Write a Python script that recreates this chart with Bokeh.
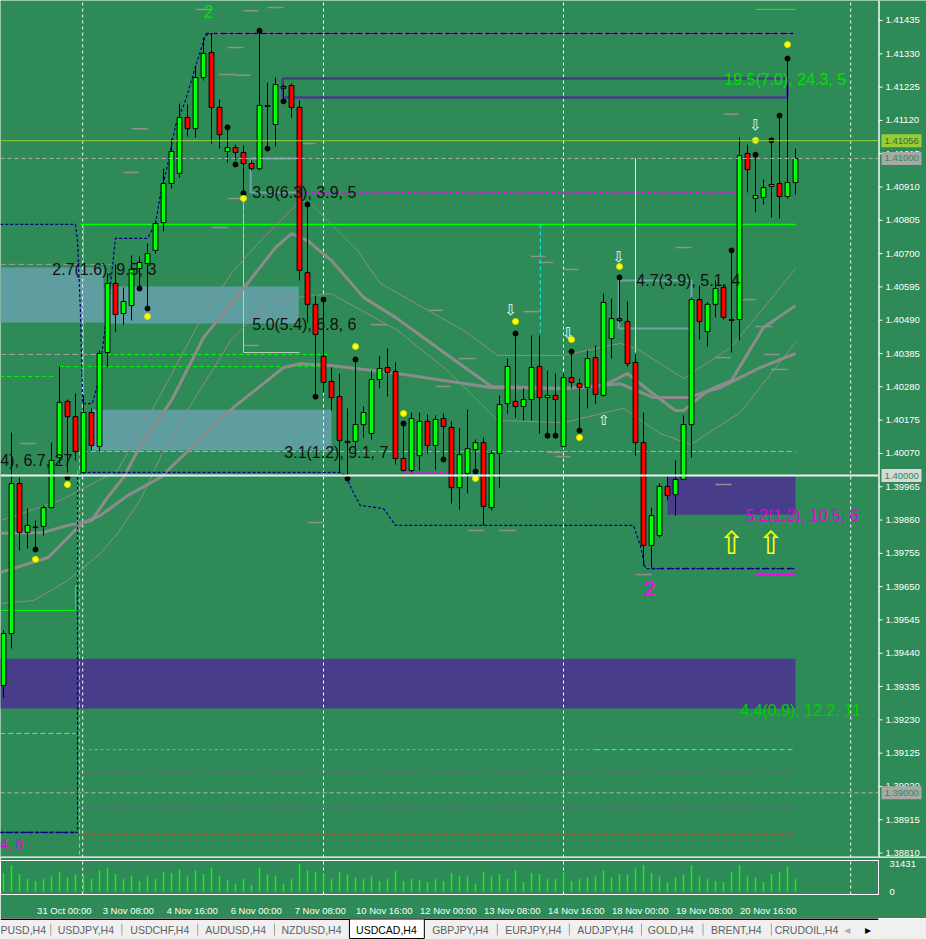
from bokeh.plotting import figure
from bokeh.models import Range1d, FixedTicker, Span, LinearAxis
from bokeh.layouts import column, row
from bokeh.core.properties import value
from bokeh.embed import file_html
from bokeh.resources import INLINE

BG = "#2E8B57"

# ---------------- data ----------------
bars = list(range(-4, 96))
opens = [1.39338,1.39502,1.39975,1.39821,1.39836,1.39840,1.39899,1.40057,1.40234,1.40186,
         1.40010,1.40199,1.40092,1.40388,1.40606,1.40511,1.40536,1.40653,1.40669,1.40710,
         1.40798,1.40921,1.40953,1.41129,1.41094,1.41255,1.41334,1.41161,1.41022,1.41034,
         1.41019,1.40984,1.40968,1.41167,1.41107,1.41227,1.41230,1.41161,1.40640,1.40540,
         1.40376,1.40297,1.40249,1.40108,1.40108,1.40161,1.40133,1.40303,1.40341,1.40328,
         1.40054,1.40016,1.40063,1.40171,1.40095,1.40180,1.40152,1.39962,1.40007,1.40082,
         1.40104,1.39899,1.40070,1.40227,1.40234,1.40218,1.40240,1.40344,1.40246,1.40253,
         1.40092,1.40309,1.40290,1.40278,1.40372,1.40253,1.40432,1.40495,1.40486,1.40357,
         1.40104,1.39780,1.39811,1.39966,1.39940,1.39988,1.40161,1.40555,1.40454,1.40540,
         1.40593,1.40492,1.40492,1.41016,1.40874,1.40877,1.40912,1.40921,1.40880,1.40924]
highs = [1.39512,1.40136,1.39994,1.39896,1.39858,1.39906,1.40104,1.40344,1.40240,1.40259,
         1.40253,1.40212,1.40394,1.40637,1.40666,1.40593,1.40694,1.40691,1.40732,1.40804,
         1.40968,1.41063,1.41173,1.41170,1.41293,1.41381,1.41394,1.41186,1.41094,1.41044,
         1.41041,1.40994,1.41403,1.41239,1.41255,1.41233,1.41236,1.41183,1.40849,1.40568,
         1.40555,1.40341,1.40322,1.40212,1.40357,1.40218,1.40331,1.40376,1.40401,1.40357,
         1.40164,1.40199,1.40199,1.40193,1.40190,1.40196,1.40171,1.40149,1.40208,1.40114,
         1.40120,1.40079,1.40253,1.40369,1.40445,1.40275,1.40442,1.40442,1.40331,1.40322,
         1.40322,1.40394,1.40306,1.40394,1.40410,1.40574,1.40558,1.40622,1.40549,1.40382,
         1.40199,1.39899,1.39975,1.39997,1.40048,1.40190,1.40562,1.40599,1.40546,1.40615,
         1.40602,1.40710,1.41066,1.41044,1.41012,1.40934,1.41057,1.41135,1.41315,1.41031]
lows = [1.39300,1.39455,1.39764,1.39770,1.39773,1.39811,1.39896,1.40038,1.40010,1.40048,
        1.40004,1.40079,1.40076,1.40344,1.40454,1.40476,1.40489,1.40590,1.40527,1.40700,
        1.40770,1.40905,1.40940,1.41069,1.41066,1.41246,1.41047,1.41031,1.40987,1.40994,
        1.40890,1.40962,1.40962,1.41031,1.41038,1.41180,1.41129,1.40615,1.40483,1.40249,
        1.40262,1.40205,1.40007,1.39997,1.40089,1.40120,1.40114,1.40275,1.40249,1.40035,
        1.40013,1.40010,1.40016,1.40070,1.40019,1.40051,1.39912,1.39893,1.39944,1.40000,
        1.39843,1.39890,1.39962,1.40196,1.40183,1.40174,1.40174,1.40133,1.40126,1.40126,
        1.40089,1.40275,1.40142,1.40212,1.40227,1.40249,1.40369,1.40483,1.40344,1.40063,
        1.39717,1.39710,1.39805,1.39922,1.39874,1.39985,1.40057,1.40429,1.40407,1.40499,
        1.40492,1.40388,1.40426,1.40893,1.40830,1.40855,1.40814,1.40811,1.40874,1.40886]
closes = [1.39502,1.39975,1.39821,1.39843,1.39838,1.39899,1.40048,1.40231,1.40186,1.40076,
          1.40199,1.40095,1.40385,1.40606,1.40508,1.40549,1.40650,1.40672,1.40700,1.40795,
          1.40921,1.41022,1.41129,1.41094,1.41255,1.41331,1.41161,1.41075,1.41034,1.41019,
          1.40984,1.40968,1.41167,1.41164,1.41233,1.41221,1.41161,1.40647,1.40540,1.40445,
          1.40294,1.40246,1.40111,1.40104,1.40161,1.40199,1.40303,1.40338,1.40325,1.40054,
          1.40016,1.40180,1.40171,1.40095,1.40177,1.40155,1.39962,1.40066,1.40085,1.40104,
          1.39903,1.40070,1.40224,1.40344,1.40218,1.40240,1.40341,1.40246,1.40253,1.40240,
          1.40309,1.40294,1.40278,1.40369,1.40256,1.40546,1.40495,1.40489,1.40353,1.40104,
          1.39780,1.39874,1.39966,1.39937,1.39988,1.40161,1.40555,1.40486,1.40540,1.40590,
          1.40499,1.40489,1.41009,1.40965,1.40883,1.40908,1.40918,1.40880,1.40924,1.41000]
volumes = [21000,29000,20000,15000,12000,14000,17000,22000,16000,19000,
           18000,15000,24000,27000,20000,14000,18000,12000,17000,15000,
           22000,21000,25000,17000,24000,20000,27000,18000,13000,9000,
           15000,8000,27000,19000,18000,9000,14000,31431,24000,22000,
           20000,14000,22000,19000,16000,14000,17000,12000,14000,23000,
           12000,15000,13000,11000,14000,12000,21000,18000,17000,9000,
           22000,17000,20000,15000,24000,11000,21000,20000,14000,15000,
           22000,12000,14000,16000,17000,24000,16000,20000,19000,26000,
           30000,21000,17000,10000,16000,19000,29000,17000,14000,12000,
           11000,22000,30000,17000,16000,11000,20000,22000,28000,14000]

price_ticks = [1.41435, 1.41330, 1.41225, 1.41120, 1.41015, 1.40910, 1.40805, 1.40700,
               1.40595, 1.40490, 1.40385, 1.40280, 1.40175, 1.40070, 1.39965, 1.39860,
               1.39755, 1.39650, 1.39545, 1.39440, 1.39335, 1.39230, 1.39125, 1.39020,
               1.38915, 1.38810]
time_ticks = [0, 8, 16, 24, 32, 40, 48, 56, 64, 72, 80, 88]
time_labels = ["31 Oct 00:00", "3 Nov 08:00", "4 Nov 16:00", "6 Nov 00:00", "7 Nov 08:00",
               "10 Nov 16:00", "12 Nov 00:00", "13 Nov 08:00", "14 Nov 16:00",
               "18 Nov 00:00", "19 Nov 08:00", "20 Nov 16:00"]
week_separators = [5.9, 36, 66, 101.9]

# moving averages / bands (bar, price)
ma_fast_x = [-4.4, 1, 4, 7, 9, 11, 13, 17, 21, 26, 30, 32, 34, 37, 41, 45, 49, 53, 57, 66, 71, 74, 77, 80, 81, 84, 87, 91, 95]
ma_fast_y = [1.39818, 1.39821, 1.39843, 1.39858, 1.39931, 1.39994, 1.40089, 1.40237, 1.40435, 1.40590,
             1.40719, 1.40763, 1.40741, 1.40678, 1.40562, 1.40499, 1.40426, 1.40353, 1.40281, 1.40275,
             1.40284, 1.40322, 1.40262, 1.40205, 1.40205, 1.40268, 1.40300, 1.40467, 1.40536]
ma_slow_x = [-4.4, 1.6, 5.9, 8.1, 11.5, 15.6, 24.75, 31, 33.1, 36.9, 45.25, 56.9, 66, 73.1, 77.25, 81.5, 85.6, 90.6, 95]
ma_slow_y = [1.39695, 1.39742, 1.39852, 1.39874, 1.39937, 1.39994, 1.40215, 1.40341, 1.40353, 1.40347,
             1.40322, 1.40278, 1.40275, 1.40290, 1.40246, 1.40246, 1.40278, 1.40341, 1.40385]
band_up_x = [-4.4, 3.1, 10.25, 15.25, 20.6, 24.75, 28.75, 33.1, 34.4, 40.25, 43.1, 53.5, 57.75, 66, 73.1, 75.6, 81, 86.9, 91.5, 95]
band_up_y = [1.39858, 1.39922, 1.40016, 1.40237, 1.40489, 1.40647, 1.40757, 1.40867, 1.40858, 1.40710,
             1.40606, 1.40458, 1.40379, 1.40379, 1.40417, 1.40394, 1.40306, 1.40404, 1.40543, 1.40653]
band_dn_x = [-4.4, -0.25, 4, 8.1, 10.25, 13.1, 16, 19.75, 24.4, 29.4, 36.9, 45.25, 51.5, 57.75, 66, 72.25, 73.5, 78.1, 81.9, 88.1, 95]
band_dn_y = [1.39597, 1.39606, 1.39669, 1.39754, 1.39818, 1.39922, 1.40079, 1.40237, 1.40426, 1.40552,
             1.40574, 1.40458, 1.40331, 1.40174, 1.40167, 1.40205, 1.40212, 1.40133, 1.40098, 1.40199, 1.40420]

# fractal dots
black_dot_x = [0, 4, 13, 14, 24, 25, 26, 28, 29, 31, 34, 35, 36, 39, 40, 46, 51, 55, 60, 64, 65, 67, 68, 73, 87, 90, 92, 93, 94]
black_dot_y = [1.39767, 1.39994, 1.40590, 1.40527, 1.41098, 1.40981, 1.40890, 1.41403, 1.41031, 1.41180,
               1.40855, 1.40249, 1.40555, 1.39991, 1.40366, 1.40164, 1.40051, 1.40013, 1.40448, 1.40126,
               1.40126, 1.40391, 1.40142, 1.40625, 1.40710, 1.41012, 1.41057, 1.41135, 1.41315]
yellow_dot_x = [0, 4, 14, 26, 40, 46, 55, 60, 67, 68, 73, 90, 94]
yellow_dot_y = [1.39736, 1.39972, 1.40502, 1.40874, 1.40407, 1.40196, 1.39991, 1.40486, 1.40429,
                1.40120, 1.40659, 1.41057, 1.41359]
down_arrow_x = [59.4, 66.6, 72.9, 90]
down_arrow_y = [1.40521, 1.40451, 1.40688, 1.41107]
up_arrow_x = [71]
up_arrow_y = [1.40174]
big_arrow_x = [87, 91.9]
big_arrow_y = [1.39786, 1.39786]

# zigzag / channel step lines
zz_up_x = [-4.4, 5, 5.25, 5.6, 5.9, 7.1, 7.9, 8.5, 9.4, 10, 14, 15, 15.6, 16.5, 17.5, 18.75, 20.25, 21.25, 22.1, 95]
zz_up_y = [1.40792, 1.40792, 1.40741, 1.40530, 1.40227, 1.40227, 1.40300, 1.40426, 1.40606, 1.40748,
           1.40748, 1.40795, 1.40883, 1.40978, 1.41104, 1.41183, 1.41309, 1.41388, 1.41394, 1.41394]
zz_dn_x = [-4.4, 5.25, 5.25, 5.9, 38.1, 38.75, 39.6, 40.6, 43.5, 45, 74.75, 75.6, 76.25, 95]
zz_dn_y = [1.38875, 1.38875, 1.40000, 1.40010, 1.40010, 1.40000, 1.39953, 1.39906, 1.39896, 1.39843,
           1.39843, 1.39780, 1.39707, 1.39707]

# zones
teal_left = [-4.4, 8.5, 6.9]
teal_right = [8.5, 32.9, 37]
teal_bottom = [1.40483, 1.40480, 1.40079]
teal_top = [1.40656, 1.40596, 1.40208]
slate_left = [-4.4, 79]
slate_right = [95, 95]
slate_bottom = [1.39266, 1.39877]
slate_top = [1.39423, 1.39997]

# short grey level marks (start bar, end bar, price)
marks = [(20, 22.1, 1.41470), (26, 27.9, 1.41466), (29, 31, 1.41476), (24, 26, 1.41350),
         (22.9, 25, 1.41265), (25, 26.9, 1.41262), (12, 14, 1.41094), (11, 12.9, 1.40956),
         (24, 26, 1.40874), (22, 24, 1.40782), (33.1, 35, 1.41047), (86, 87.9, 1.41139),
         (80, 82, 1.40719), (26, 27.9, 1.40410), (61.9, 63.75, 1.40691), (62.9, 64.75, 1.40672),
         (66, 67.9, 1.40650), (61, 62.9, 1.40517), (49, 50.9, 1.40521), (41.9, 44, 1.40476),
         (52.9, 55, 1.40369), (50, 51.9, 1.40281), (64, 66, 1.40073), (65, 66.9, 1.40060),
         (54, 56, 1.39827), (57.9, 60, 1.39827), (88.1, 90, 1.40555), (90, 92.1, 1.40470),
         (91, 93, 1.40382), (85, 86.9, 1.40372), (91.9, 94, 1.40335), (85, 87, 1.39972),
         (-1.9, 0, 1.40101), (34, 36, 1.39852), (75, 77, 1.39688)]

# level lines: (start bar, end bar, price, colour, dash, width)
levels = [
    (21.25, 95, 1.41394, "#808080", "solid", 2),
    (21.25, 95, 1.41394, "#000080", "4 4", 1.5),
    (77, 95, 1.39707, "#808080", "solid", 1.5),
    (77, 95, 1.39707, "#000080", "4 4", 1.5),
    (90, 95, 1.41470, "#00FF00", "solid", 1),
    (-4.4, 9.4, 1.40666, "#A0A0A0", "6 3", 1),
    (5.6, 95, 1.40792, "#00FF00", "solid", 1.5),
    (33, 87.75, 1.40893, "#FF00FF", "3 3", 2),
    (5.9, 95, 1.40076, "#00FFFF", "5 3", 1),
    (-4.4, 5, 1.39187, "#00FFFF", "5 3", 1),
    (5.9, 70, 1.39136, "#A0A0A0", "3 3", 1),
    (70, 95, 1.39136, "#00FFFF", "5 3", 1),
    (5.9, 95, 1.39061, "#FF00FF", "4 3", 1.2),
    (5.9, 95, 1.38954, "#FF00FF", "4 3", 1.2),
    (5.9, 95, 1.38868, "#A0522D", "5 3", 1.5),
    (-4.4, 5, 1.38875, "#000080", "4 3", 1.5),
    (8, 37, 1.40382, "#00FF00", "4 3", 1),
    (3, 37, 1.40344, "#00FF00", "4 3", 1),
    (-4.4, 2.5, 1.40313, "#00FF00", "4 3", 1),
    (-4.4, 8, 1.40382, "#A0A0A0", "6 3", 1),
    (46, 52, 1.40010, "#FF00FF", "3 3", 2),
    (53, 76, 1.39893, "#FF00FF", "4 3", 1),
    (79, 94.6, 1.39843, "#FF00FF", "4 3", 1),
    (90, 95, 1.39688, "#FF00FF", "solid", 2),
]

# annotations (text, bar, price, colour, size)
notes = [
    ("2.7(1.6), 9.5, 3", 2.1, 1.40650, "#111111", "16px"),
    ("3.9(6.3), 3.9, 5", 27.1, 1.40893, "#111111", "16px"),
    ("5.0(5.4), 6.8, 6", 27.1, 1.40476, "#111111", "16px"),
    ("3.1(1.2), 9.1, 7", 31.1, 1.40073, "#111111", "16px"),
    ("4), 6.7, 27", -4.4, 1.40048, "#111111", "16px"),
    ("4.7(3.9), 5.1, 4", 75.1, 1.40615, "#111111", "16px"),
    ("19.5(7.0), 24.3, 5", 86.1, 1.41249, "#00E000", "16px"),
    ("5.2(1.2), 10.5, 6", 88.75, 1.39874, "#E000E0", "16px"),
    ("4.4(0.9), 12.2, 11", 88.1, 1.39259, "#00D000", "16px"),
    ("2", 76.0, 1.39644, "#FF00FF", "22px"),
    ("4, 6", -4.4, 1.38840, "#E000E0", "14px"),
]
top_note = ("2", 21.0, 1.41485)

price_boxes = [(1.41056, "#9ACD32", "#2E6B40"), (1.41000, "#A8A8A8", "#2E8B57"),
               (1.40000, "#D8D8D8", "#2E8B57"), (1.39000, "#A8A8A8", "#2E8B57")]

tab_names = ["PUSD,H4", "USDJPY,H4", "USDCHF,H4", "AUDUSD,H4", "NZDUSD,H4", "USDCAD,H4",
             "GBPJPY,H4", "EURJPY,H4", "AUDJPY,H4", "GOLD,H4", "BRENT,H4", "CRUDOIL,H4"]
tab_centers = [24, 90, 168, 248, 328, 407, 485, 562, 638, 707, 776, 850]
tab_separators = [53, 128, 208, 289, 524, 600, 676, 741, 813]

# ---------------- main chart ----------------
X_RANGE = Range1d(-4.375, 105.375)
Y_BOTTOM, Y_TOP = 1.38796, 1.41498
Y_RANGE = Range1d(Y_BOTTOM, Y_TOP)
FONT = "Liberation Sans"

p = figure(width=878, height=857, x_range=X_RANGE, y_range=Y_RANGE,
           output_backend="svg", toolbar_location=None, x_axis_location=None,
           y_axis_location=None, min_border=0, background_fill_color=BG,
           border_fill_color=BG, outline_line_color=None)
p.grid.visible = False

# zones
p.quad(left=teal_left, right=teal_right, bottom=teal_bottom, top=teal_top,
       fill_color="#5F9EA0", line_color=None)
p.quad(left=slate_left, right=slate_right, bottom=slate_bottom, top=slate_top,
       fill_color="#483D8B", line_color=None)

# period separators (under candles)
p.segment(x0=week_separators, x1=week_separators, y0=[Y_BOTTOM] * 4, y1=[Y_TOP] * 4,
          line_color="white", line_dash="3 3", line_width=1)

for (x0, x1, y, c, d, w) in levels:
    p.segment(x0=[x0], x1=[x1], y0=[y], y1=[y], line_color=c, line_dash=d, line_width=w)
p.segment(x0=[m[0] for m in marks], x1=[m[1] for m in marks], y0=[m[2] for m in marks],
          y1=[m[2] for m in marks], line_color="#909090", line_width=1.5)

# rectangles outlines
p.quad(left=[30.9], right=[94], bottom=[1.41192], top=[1.41252], fill_color=None,
       line_color="#483D8B", line_width=2.5)
p.quad(left=[26.9, 72.9], right=[33.1, 82], bottom=[1.40893, 1.40464], top=[1.41000, 1.40615],
       fill_color=None, line_color="#6FA3A8", line_width=2)
p.line([26, 26, 33], [1.40893, 1.40388, 1.40388], line_color="#C8C8C8", line_width=1)
p.segment(x0=[75], x1=[75], y0=[1.41000], y1=[1.40388], line_color="#FFFF40", line_width=1)
p.segment(x0=[5.5, 26, 63.1], x1=[5.5, 26, 63.1], y0=[1.40076, 1.40883, 1.40792],
          y1=[Y_BOTTOM, 1.40741, 1.40451], line_color="#00FFFF", line_dash="4 3", line_width=1)
p.line([-4.4, 5, 5, 5.25, 5.25, 6, 6], [1.39575, 1.39575, 1.39654, 1.39654, 1.40016, 1.40016, 1.40792],
       line_color="#00FF00", line_width=1)

# moving averages
p.line(band_up_x, band_up_y, line_color="#8C8C8C", line_width=1)
p.line(band_dn_x, band_dn_y, line_color="#8C8C8C", line_width=1)
p.line(ma_slow_x, ma_slow_y, line_color="#8C8C8C", line_width=3)
p.line(ma_fast_x, ma_fast_y, line_color="#8C8C8C", line_width=3)

# zigzag channel
p.line(zz_up_x, zz_up_y, line_color="#000080", line_dash="3 2", line_width=1.2)
p.line(zz_dn_x, zz_dn_y, line_color="#000080", line_dash="3 2", line_width=1.2)

# candles
inc = [i for i in range(len(bars)) if closes[i] >= opens[i]]
dec = [i for i in range(len(bars)) if closes[i] < opens[i]]
p.segment(x0=bars, x1=bars, y0=lows, y1=highs, line_color="black", line_width=1)
p.vbar(x=[bars[i] for i in inc], width=0.6, bottom=[opens[i] for i in inc],
       top=[closes[i] for i in inc], fill_color="#00FF00", line_color="black", line_width=1)
p.vbar(x=[bars[i] for i in dec], width=0.6, bottom=[closes[i] for i in dec],
       top=[opens[i] for i in dec], fill_color="#FF0000", line_color="black", line_width=1)

# current price lines (over candles)
p.add_layout(Span(location=1.41056, dimension="width", line_color="#9ACD32", line_width=1))
p.add_layout(Span(location=1.41000, dimension="width", line_color="#B0B0B0", line_dash="4 3", line_width=1))
p.add_layout(Span(location=1.40000, dimension="width", line_color="#EEEEEE", line_width=2))
p.add_layout(Span(location=1.39000, dimension="width", line_color="#B0B0B0", line_dash="4 3", line_width=1))

# dots and arrows
p.scatter(black_dot_x, black_dot_y, size=5, fill_color="black", line_color="black")
p.scatter(yellow_dot_x, yellow_dot_y, size=6, fill_color="#FFFF00", line_color="#E0E000")
p.text(down_arrow_x, down_arrow_y, text=["\u21e9"] * len(down_arrow_x), text_color="#E0FFFF",
       text_font=value("DejaVu Sans"), text_font_size="15px", text_align="center",
       text_baseline="middle")
p.text(up_arrow_x, up_arrow_y, text=["\u21e7"] * len(up_arrow_x), text_color="#FFFFE0",
       text_font=value("DejaVu Sans"), text_font_size="14px", text_align="center",
       text_baseline="middle")
p.text(big_arrow_x, big_arrow_y, text=["\u21e7"] * len(big_arrow_x), text_color="#FFFF00",
       text_font=value("DejaVu Sans"), text_font_size="32px", text_align="center",
       text_baseline="middle")

for (t, x, y, c, s) in notes:
    p.text([x], [y], text=[t], text_color=c, text_font=value(FONT), text_font_size=s,
           text_align="left", text_baseline="middle")
p.text([top_note[1]], [top_note[2]], text=[top_note[0]], text_color="#00E000",
       text_font=value(FONT), text_font_size="18px", text_align="left", text_baseline="top")

p.add_layout(Span(location=Y_BOTTOM, dimension="width", line_color="white", line_width=2))

# ---------------- price scale panel ----------------
ax = figure(width=48, height=857, x_range=Range1d(0, 48), y_range=Y_RANGE,
            output_backend="svg", toolbar_location=None, x_axis_location=None,
            y_axis_location=None, min_border=0, background_fill_color=BG,
            border_fill_color=BG, outline_line_color=None)
ax.grid.visible = False
ax.add_layout(Span(location=0.5, dimension="height", line_color="white", line_width=1.5))
ax.segment(x0=[0] * len(price_ticks), x1=[4] * len(price_ticks), y0=price_ticks, y1=price_ticks,
           line_color="white", line_width=1)
ax.text([7] * len(price_ticks), price_ticks, text=[f"{t:.5f}" for t in price_ticks],
        text_color="white", text_font=value(FONT), text_font_size="9.5px",
        text_align="left", text_baseline="middle")
ax.rect(x=[23] * len(price_boxes), y=[b[0] for b in price_boxes], width=40, height=13,
        height_units="screen", fill_color=[b[1] for b in price_boxes], line_color=None)
ax.text([6] * len(price_boxes), [b[0] for b in price_boxes], text=[f"{b[0]:.5f}" for b in price_boxes],
        text_color=[b[2] for b in price_boxes], text_font=value(FONT), text_font_size="9.5px",
        text_align="left", text_baseline="middle")
ax.add_layout(Span(location=Y_BOTTOM, dimension="width", line_color="white", line_width=2))

# ---------------- volume ----------------
v = figure(width=926, height=61, x_range=X_RANGE, y_range=Range1d(-3000, 35000),
           output_backend="svg", toolbar_location=None, y_axis_location="right",
           x_axis_location=None, min_border_left=0, min_border_right=48, min_border_top=3,
           min_border_bottom=21, background_fill_color=BG, border_fill_color=BG,
           outline_line_color="white")
v.grid.visible = False
v.segment(x0=week_separators, x1=week_separators, y0=[-3000] * 4, y1=[35000] * 4,
          line_color="white", line_dash="3 3", line_width=1)
v.segment(x0=bars, x1=bars, y0=[0] * len(bars), y1=volumes, line_color="#00FF00", line_width=1.5)
vy = v.yaxis[0]
vy.ticker = FixedTicker(ticks=[0, 31431])
vy.axis_line_color = "white"
vy.major_tick_line_color = None
vy.minor_tick_line_color = None
vy.major_label_text_color = "white"
vy.major_label_text_font = FONT
vy.major_label_text_font_size = "9.5px"
vy.major_label_standoff = 5

label_pos = [t + 3.6 for t in time_ticks]
label_axis = LinearAxis(ticker=FixedTicker(ticks=label_pos), axis_line_color="white",
                        major_tick_line_color=None, minor_tick_line_color=None,
                        major_label_overrides={lp: l for lp, l in zip(label_pos, time_labels)},
                        major_label_text_color="white", major_label_text_font=FONT,
                        major_label_text_font_size="9.5px", major_label_standoff=4)
v.add_layout(label_axis, "below")

# ---------------- tabs ----------------
tb = figure(width=926, height=21, x_range=Range1d(0, 926), y_range=Range1d(0, 21),
            output_backend="svg", toolbar_location=None, x_axis_location=None,
            y_axis_location=None, min_border=0, background_fill_color="#F0F0F0",
            border_fill_color="#F0F0F0", outline_line_color=None)
tb.grid.visible = False
tb.segment(x0=[0], x1=[926], y0=[20.5], y1=[20.5], line_color="black", line_width=2)
tb.segment(x0=tab_separators, x1=tab_separators, y0=[4] * len(tab_separators),
           y1=[16] * len(tab_separators), line_color="#A0A0A0", line_width=1)
tb.quad(left=[368], right=[447], bottom=[1], top=[20.5], fill_color="white",
        line_color="black", line_width=1)
for name, cx in zip(tab_names, tab_centers):
    tb.text([cx], [10], text=[name], text_color="black" if name == "USDCAD,H4" else "#606060",
            text_font=value(FONT), text_font_size="10.5px", text_align="center",
            text_baseline="middle")
tb.text([893, 915], [10, 10], text=["\u25c2", "\u25b8"], text_color=["#B0B0B0", "black"],
        text_font=value("DejaVu Sans"), text_font_size="12px", text_align="center",
        text_baseline="middle")

layout = column(row(p, ax, spacing=0), v, tb, spacing=0)
open("out.html", "w").write(file_html(layout, INLINE))
